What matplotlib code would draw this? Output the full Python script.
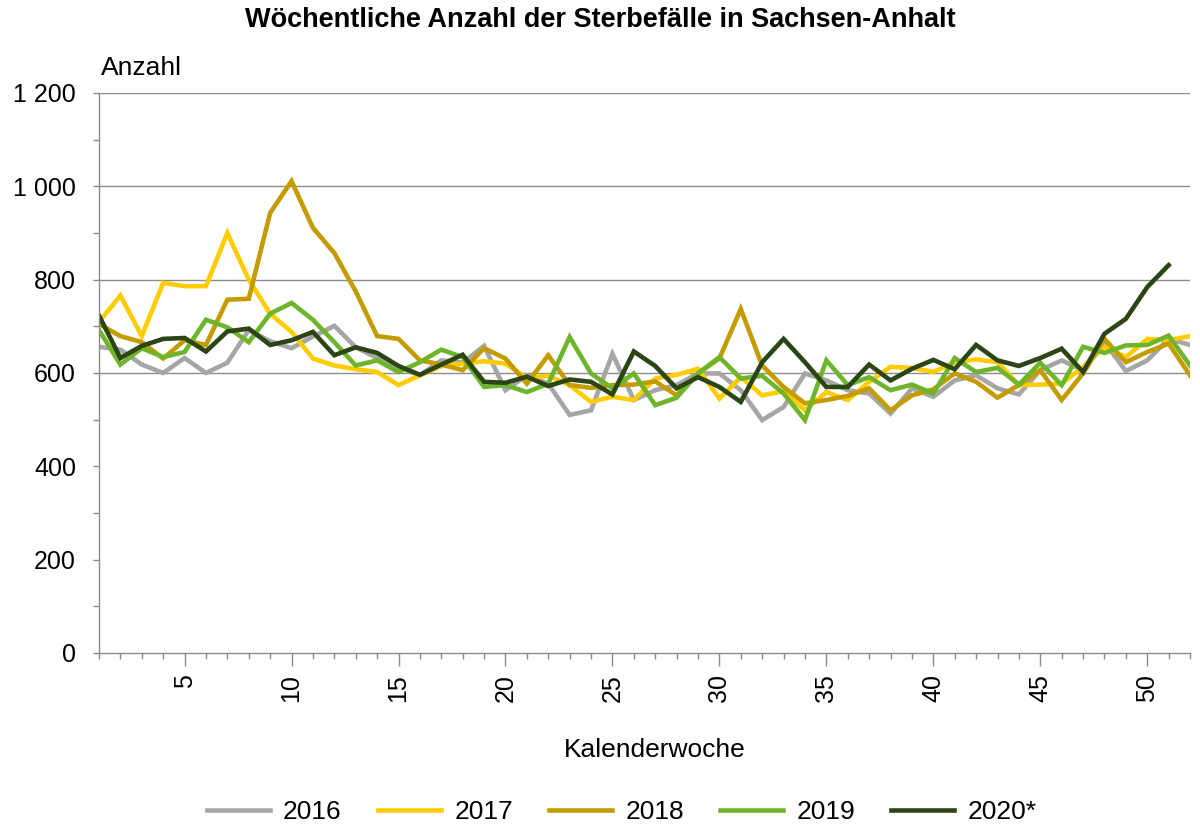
import matplotlib
matplotlib.use("Agg")
import matplotlib.pyplot as plt
from matplotlib.ticker import MultipleLocator, FuncFormatter

plt.rcParams['font.family'] = ['Liberation Sans', 'DejaVu Sans']

weeks = list(range(1, 53))

w2016 = [656, 650, 618, 600, 632, 600, 622, 692, 668, 653, 678, 701, 655, 632, 612, 595,
         627, 622, 658, 563, 595, 577, 510, 520, 641, 542, 563, 574, 599, 599, 563, 499,
         527, 599, 584, 563, 556, 513, 567, 549, 584, 595, 567, 554, 606, 627, 606, 666,
         604, 627, 673, 660]
w2017 = [709, 766, 679, 793, 786, 786, 900, 800, 727, 688, 631, 616, 608, 602, 574, 595,
         615, 620, 625, 620, 589, 594, 574, 538, 549, 542, 588, 596, 609, 545, 591, 552,
         561, 520, 559, 542, 581, 613, 611, 602, 623, 629, 623, 574, 575, 577, 613, 656,
         634, 673, 670, 679]
w2018 = [705, 679, 666, 631, 670, 660, 757, 759, 943, 1011, 911, 857, 775, 679, 673, 627,
         618, 606, 653, 631, 577, 638, 574, 568, 574, 575, 582, 552, 599, 631, 737, 616,
         570, 535, 542, 551, 567, 520, 552, 565, 599, 581, 547, 574, 606, 542, 599, 673,
         623, 645, 663, 595]
w2019 = [692, 618, 653, 634, 645, 714, 698, 666, 727, 750, 714, 666, 616, 627, 602, 623,
         650, 634, 570, 574, 559, 577, 677, 599, 567, 599, 531, 547, 599, 634, 588, 594,
         556, 499, 627, 574, 591, 563, 575, 556, 632, 602, 611, 575, 622, 574, 656, 643,
         659, 660, 680, 616]
w2020 = [723, 632, 658, 673, 675, 646, 689, 695, 660, 670, 688, 638, 655, 643, 615, 596,
         618, 639, 581, 579, 592, 572, 586, 581, 554, 646, 615, 567, 591, 570, 538, 623,
         673, 623, 570, 570, 618, 584, 609, 628, 608, 660, 627, 615, 632, 652, 602, 684,
         716, 784, 831]

grid_levels = [600, 800, 1000, 1200]

series = [
    ("2016", w2016, "#a6a6a6"),
    ("2017", w2017, "#ffcc00"),
    ("2018", w2018, "#c49c00"),
    ("2019", w2019, "#6fb52c"),
    ("2020*", w2020, "#2b4514"),
]

fig = plt.figure(figsize=(12, 8.3), dpi=100)
ax = fig.add_axes([0.0825, 0.2133, 0.9092, 0.6747])

for name, vals, col in series:
    ax.plot(weeks[:len(vals)], vals, color=col, lw=3.3, label=name,
            solid_joinstyle='miter')

ax.set_xlim(1, 52)
ax.set_ylim(0, 1200)

ax.yaxis.set_major_locator(MultipleLocator(200))
ax.yaxis.set_minor_locator(MultipleLocator(100))
ax.yaxis.set_major_formatter(FuncFormatter(lambda v, p: f"{int(v):,}".replace(",", " ")))
ax.set_xticks(range(5, 51, 5))
ax.xaxis.set_minor_locator(MultipleLocator(1))

# horizontal lines only in the upper part, like the original
for g in grid_levels:
    ax.axhline(g, color='#8c8c8c', lw=1.0, zorder=0.5)

for s in ['top', 'right']:
    ax.spines[s].set_visible(False)
for s in ['left', 'bottom']:
    ax.spines[s].set_color('#8c8c8c')
    ax.spines[s].set_linewidth(1.0)

ax.tick_params(axis='x', which='major', length=9, width=1, color='#8c8c8c',
               labelsize=18, labelrotation=90, pad=6)
ax.tick_params(axis='x', which='minor', length=4.5, width=1, color='#8c8c8c')
ax.tick_params(axis='y', which='both', length=4.5, width=1, color='#8c8c8c',
               labelsize=18, pad=12)

fig.text(0.546, 0.096, "Kalenderwoche", fontsize=19, ha='center', va='center')
fig.text(0.084, 0.918, "Anzahl", fontsize=19, ha='left', va='center')
fig.text(0.5, 0.976, "Wöchentliche Anzahl der Sterbefälle in Sachsen-Anhalt",
         fontsize=19.5, fontweight='bold', ha='center', va='center')

fig.legend(loc='center', bbox_to_anchor=(0.518, 0.022), ncol=5, frameon=False,
           fontsize=19, handlelength=2.4, columnspacing=1.36, handletextpad=0.5)

fig.savefig("out.png", dpi=100, facecolor='white')
